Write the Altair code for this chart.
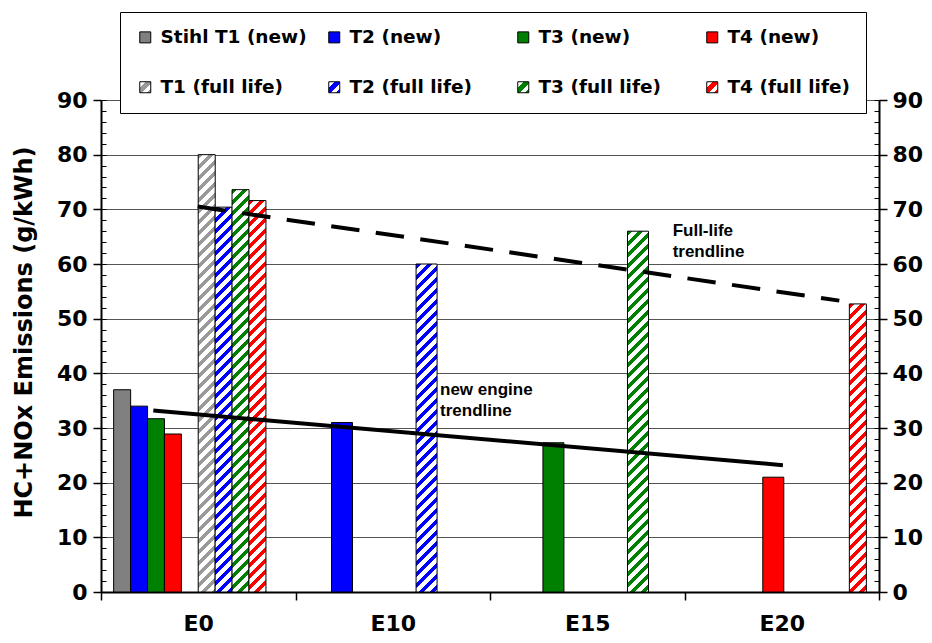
import altair as alt
import pandas as pd

# ---------------- data ----------------
categories = ["E0", "E10", "E15", "E20"]
series_new = ["Stihl T1 (new)", "T2 (new)", "T3 (new)", "T4 (new)"]
series_full = ["T1 (full life)", "T2 (full life)", "T3 (full life)", "T4 (full life)"]

e0_new = [37.0, 34.0, 31.7, 28.9]
e0_full = [80.0, 70.4, 73.6, 71.6]

blend_cats = ["E10", "E15", "E20"]
blend_engine = [1, 2, 3]          # index into the series lists (T2, T3, T4)
blend_new = [31.0, 27.3, 21.0]
blend_full = [60.0, 66.0, 52.7]

trend_x_new = [0.269, 3.506]      # in category units (0 = left edge of E0, 4 = right edge of E20)
trend_y_new = [33.2, 23.2]
trend_x_full = [0.497, 3.796]
trend_y_full = [70.5, 53.3]

notes = ["new engine\ntrendline", "Full-life\ntrendline"]
note_x = [1.743, 2.939]
note_y = [36.0, 65.2]

y_ticks = list(range(0, 91, 10))
y_minor = list(range(0, 91, 2))

# ---------------- style ----------------
W, H = 778, 492
Y_MAX = 90
colors = ["#808080", "#0000FF", "#008000", "#FF0000"]
hatch_colors = ["#9A9A9A", "#0000FF", "#008000", "#FF0000"]
N_SLOTS = 23
slot_base_new, slot_base_full = 2, 12
slot_shift = {"E0": 0, "E10": 1, "E15": 1, "E20": 2}
width_new = {"E0": 17, "E10": 21, "E15": 21, "E20": 21}
width_full = {"E0": 17, "E10": 21, "E15": 21, "E20": 17}
FONT = "DejaVu Sans"
NOTE_FONT = "Liberation Sans"


def hatch(color, w, h, period=11.0, frac=0.45):
    total = w + h
    k = total / (w * w + h * h)
    stops = []
    pos = 0.0
    while pos < total - 1e-9:
        a = round(pos / total, 5)
        b = round(min((pos + frac * period) / total, 1.0), 5)
        c = round(min((pos + period) / total, 1.0), 5)
        stops += [{"offset": a, "color": color}, {"offset": b, "color": color},
                  {"offset": b, "color": "white"}, {"offset": c, "color": "white"}]
        pos += period
    return {"gradient": "linear", "x1": 0, "y1": 0,
            "x2": round(k * w, 6), "y2": round(k * h, 6), "stops": stops}


def legend_hatch_expr(color):
    segs = [(0.0, 0.28, "white"), (0.28, 0.58, color), (0.58, 0.84, "white"), (0.84, 1.0, color)]
    parts = []
    for a, b, c in segs:
        parts.append("{offset:%s,color:'%s'}" % (a, c))
        parts.append("{offset:%s,color:'%s'}" % (b, c))
    return "{gradient:'linear',x1:0,y1:0,x2:1,y2:1,stops:[" + ",".join(parts) + "]}"


# rows
new_rows, full_rows = [], []
for i in range(4):
    new_rows.append({"cat": "E0", "series": series_new[i], "value": e0_new[i],
                     "slot": slot_base_new + 2 * i + slot_shift["E0"]})
    full_rows.append({"cat": "E0", "series": series_full[i], "value": e0_full[i],
                      "slot": slot_base_full + 2 * i + slot_shift["E0"], "eng": i})
for c, e, vn, vf in zip(blend_cats, blend_engine, blend_new, blend_full):
    new_rows.append({"cat": c, "series": series_new[e], "value": vn,
                     "slot": slot_base_new + 2 * e + slot_shift[c]})
    full_rows.append({"cat": c, "series": series_full[e], "value": vf,
                      "slot": slot_base_full + 2 * e + slot_shift[c], "eng": e})
new_df = pd.DataFrame(new_rows)

# scales & axes
x_scale = alt.Scale(domain=categories, paddingInner=0, paddingOuter=0)
xo_scale = alt.Scale(domain=list(range(N_SLOTS)), paddingInner=0, paddingOuter=0)
y_scale = alt.Scale(domain=[0, Y_MAX], nice=False, zero=True)

x_axis = alt.Axis(orient="bottom", tickBand="extent", ticks=True, tickSize=8, tickColor="black",
                  tickWidth=1.5, domain=True, domainColor="black", domainWidth=2,
                  labelFont=FONT, labelFontSize=22, labelFontWeight="bold", labelColor="black",
                  labelPadding=13, labelAngle=0, grid=False, title=None)
y_axis_main = alt.Axis(orient="left", values=y_ticks, grid=True, gridColor="#555555", gridWidth=1,
                       domain=True, domainColor="black", domainWidth=2, ticks=True, tickColor="black",
                       tickSize=8, tickWidth=1.5, labelFont=FONT, labelFontSize=22,
                       labelFontWeight="bold", labelColor="black", labelPadding=6,
                       title="HC+NOx Emissions (g/kWh)", titleFont=FONT, titleFontSize=24,
                       titleFontWeight="bold", titleColor="black", titleX=-77, titleY=232,
                       titleAngle=270, titleAlign="center", titleBaseline="middle")

fill_range = colors + [{"expr": legend_hatch_expr(c)} for c in hatch_colors]
fill_scale = alt.Scale(domain=series_new + series_full, range=fill_range)
legend = alt.Legend(orient="none", legendX=19, legendY=-88, columns=4, direction="horizontal",
                    gridAlign="all", columnPadding=18, rowPadding=31, symbolType="square",
                    symbolSize=121, symbolStrokeColor="black", symbolStrokeWidth=1,
                    labelFont=FONT, labelFontSize=18.5, labelFontWeight="bold", labelColor="black",
                    labelOffset=6, labelLimit=300, padding=16, strokeColor="black",
                    fillColor="white", title=None)


def enc(base):
    return base.encode(
        x=alt.X("cat:N", scale=x_scale, axis=x_axis, title=None),
        xOffset=alt.XOffset("slot:O", scale=xo_scale),
        y=alt.Y("value:Q", scale=y_scale, axis=y_axis_main),
    )


layers = []
for c in categories:
    sub = new_df[new_df["cat"] == c]
    layers.append(enc(alt.Chart(sub).mark_bar(width=width_new[c], stroke="black", strokeWidth=1))
                  .encode(fill=alt.Fill("series:N", scale=fill_scale, legend=legend)))
for r in full_rows:
    w = width_full[r["cat"]]
    h = r["value"] * H / Y_MAX
    sub = pd.DataFrame([r])
    layers.append(enc(alt.Chart(sub).mark_bar(width=w, stroke="black", strokeWidth=1,
                                               fill=hatch(hatch_colors[r["eng"]], w, h))))
bars = alt.layer(*layers)

trend_df = pd.DataFrame({
    "x": trend_x_new + trend_x_full,
    "y": trend_y_new + trend_y_full,
    "kind": ["new"] * len(trend_x_new) + ["full"] * len(trend_x_full),
})
tx = alt.X("x:Q", scale=alt.Scale(domain=[0, len(categories)], nice=False, zero=False), axis=None)
ty = alt.Y("y:Q", scale=y_scale, axis=None)
line_new = alt.Chart(trend_df[trend_df["kind"] == "new"]).mark_line(
    color="black", strokeWidth=4).encode(x=tx, y=ty)
line_full = alt.Chart(trend_df[trend_df["kind"] == "full"]).mark_line(
    color="black", strokeWidth=4, strokeDash=[28.5, 16.5]).encode(x=tx, y=ty)
note_df = pd.DataFrame({"x": note_x, "y": note_y, "note": notes})
texts = alt.Chart(note_df).mark_text(
    align="left", baseline="alphabetic", font=NOTE_FONT, fontSize=17, fontWeight="bold",
    lineBreak="\n", lineHeight=21, color="black").encode(x=tx, y=ty, text="note:N")
trend = alt.layer(line_new, line_full, texts)

tick_df = pd.DataFrame({"v": y_ticks})
minor_df = pd.DataFrame({"v": y_minor})
ax_right = alt.Chart(tick_df).mark_rule(opacity=0).encode(
    y=alt.Y("v:Q", scale=y_scale, axis=alt.Axis(
        orient="right", values=y_ticks, grid=False, domain=True, domainColor="black", domainWidth=2,
        ticks=True, tickColor="black", tickSize=8, tickWidth=1.5, labelFont=FONT, labelFontSize=22,
        labelFontWeight="bold", labelColor="black", labelPadding=5, title=None)))
ax_minor_l = alt.Chart(minor_df).mark_rule(opacity=0).encode(
    y=alt.Y("v:Q", scale=y_scale, axis=alt.Axis(
        orient="right", offset=-W, values=y_minor, grid=False, domain=False, labels=False,
        ticks=True, tickColor="black", tickSize=5, tickWidth=1, title=None)))
ax_minor_r = alt.Chart(minor_df).mark_rule(opacity=0).encode(
    y=alt.Y("v:Q", scale=y_scale, axis=alt.Axis(
        orient="left", offset=-W, values=y_minor, grid=False, domain=False, labels=False,
        ticks=True, tickColor="black", tickSize=5, tickWidth=1, title=None)))

chart = alt.layer(bars, trend, ax_right, ax_minor_l, ax_minor_r).resolve_scale(
    x="independent").resolve_axis(y="independent").properties(
    width=W, height=H,
    padding={"left": 93, "top": 92, "right": 45, "bottom": 50},
    autosize=alt.AutoSizeParams(type="none"),
    background="white",
).configure_view(stroke=None)

chart.save("out.html", embed_options={"renderer": "svg", "actions": False})
